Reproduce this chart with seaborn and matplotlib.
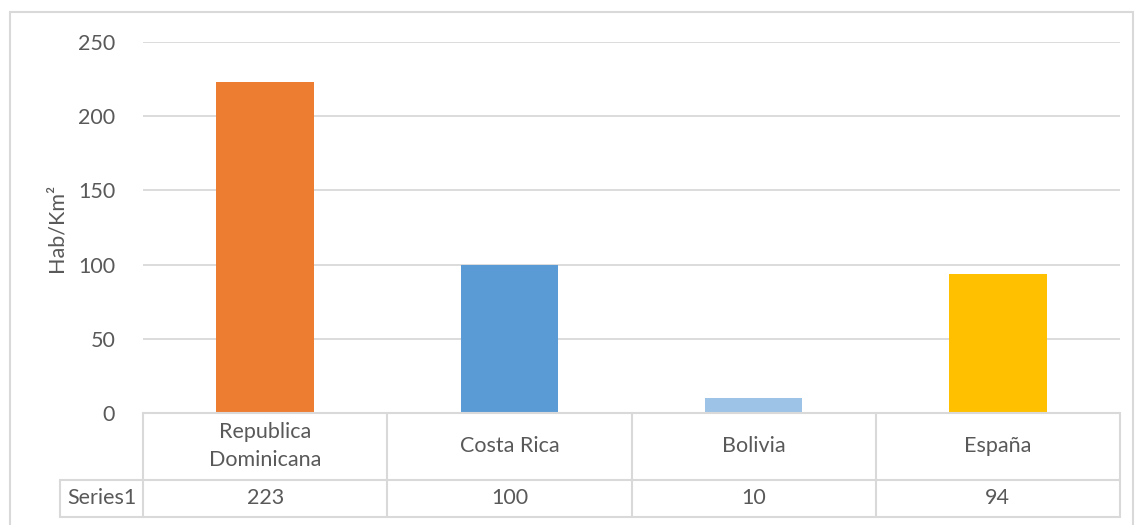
import numpy as np
import seaborn as sns
import matplotlib.pyplot as plt
from matplotlib.lines import Line2D
from matplotlib.patches import Rectangle

# chart data
categories = ['Republica\nDominicana', 'Costa Rica', 'Bolivia', 'España']
values = [223, 100, 10, 94]
series_name = 'Series1'
bar_colors = ['#ED7D31', '#5B9BD5', '#9DC3E6', '#FFC000']
y_ticks = [0, 50, 100, 150, 200, 250]

sns.set_theme(style='white')
plt.rcParams['font.family'] = ['Lato', 'DejaVu Sans']

text_color = '#595959'
line_color = '#D9D9D9'
fs = 15.5

fig = plt.figure(figsize=(11.35, 5.25), dpi=100)
ax = fig.add_axes([143 / 1135, 112 / 525, 977 / 1135, 371 / 525])

sns.barplot(x=list(range(len(values))), y=values, hue=list(range(len(values))),
            palette=bar_colors, legend=False, width=0.4, ax=ax, saturation=1,
            linewidth=0)

ax.set_xlim(-0.5, len(values) - 0.5)
ax.set_ylim(0, 250)
ax.set_yticks(y_ticks)
ax.set_yticklabels([str(t) for t in y_ticks], fontsize=fs, color=text_color)
ax.tick_params(axis='y', length=0, pad=20)
ax.set_xticks([])
ax.set_xlabel('')
ax.set_ylabel('Hab/Km²', fontsize=fs, color=text_color, labelpad=8)
ax.yaxis.grid(True, color=line_color, linewidth=1.3)
ax.set_axisbelow(True)
for s in ax.spines.values():
    s.set_visible(False)

# data table under the plot, x in data units, y in axes units
tr = ax.get_xaxis_transform()
row1 = -67 / 371
row2 = -104 / 371
left_cell = -0.84
n = len(values)
lw = 1.5
kw = dict(transform=tr, color=line_color, linewidth=lw, clip_on=False)
ax.add_line(Line2D([-0.5, n - 0.5], [0, 0], **kw))
ax.add_line(Line2D([left_cell, n - 0.5], [row1, row1], **kw))
ax.add_line(Line2D([left_cell, n - 0.5], [row2, row2], **kw))
for i in range(n + 1):
    ax.add_line(Line2D([i - 0.5, i - 0.5], [0, row2], **kw))
ax.add_line(Line2D([left_cell, left_cell], [row1, row2], **kw))

for i, (c, v) in enumerate(zip(categories, values)):
    ax.text(i, row1 / 2, c, transform=tr, ha='center', va='center',
            fontsize=fs, color=text_color, linespacing=1.5)
    ax.text(i, (row1 + row2) / 2, str(v), transform=tr, ha='center', va='center',
            fontsize=fs, color=text_color)
ax.text((left_cell - 0.5) / 2, (row1 + row2) / 2, series_name, transform=tr,
        ha='center', va='center', fontsize=fs, color=text_color)

# chart area border
fig.patches.append(Rectangle((10 / 1135, -0.1), 1123 / 1135, 1.1 - 12 / 525,
                             transform=fig.transFigure, fill=False,
                             edgecolor=line_color, linewidth=1.5))

fig.savefig('out.png', dpi=100)
